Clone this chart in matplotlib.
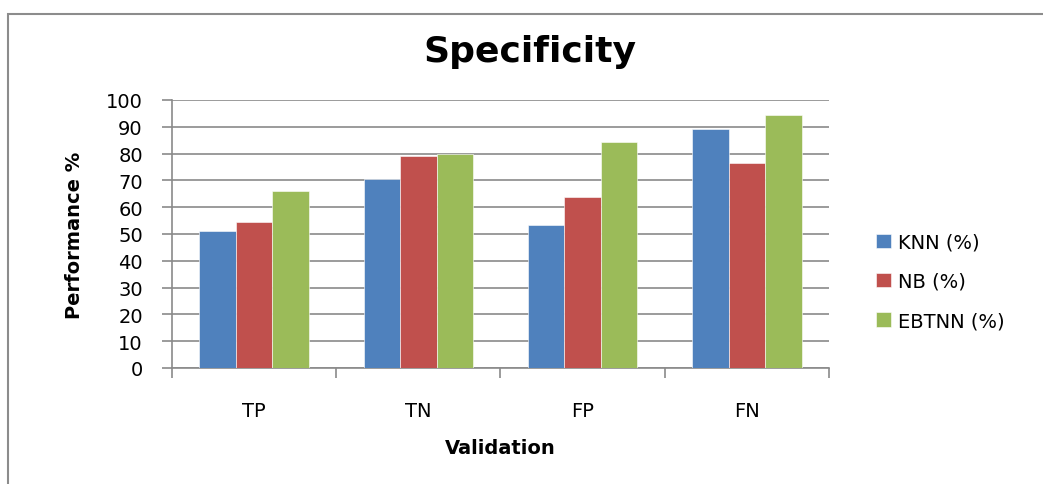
import numpy as np
import matplotlib
matplotlib.use("Agg")
import matplotlib.pyplot as plt
from matplotlib.patches import Rectangle

categories = ["TP", "TN", "FP", "FN"]
series_names = ["KNN (%)", "NB (%)", "EBTNN (%)"]
knn = [51.1, 70.7, 53.2, 89.3]
nb = [54.3, 79.0, 63.9, 76.3]
ebtnn = [65.9, 80.0, 84.2, 94.5]
colors = ["#4F81BD", "#C0504D", "#9BBB59"]

plt.rcParams["font.family"] = ["DejaVu Sans"]

fig = plt.figure(figsize=(10.43, 4.85), dpi=100)
ax = fig.add_axes([0.1649, 0.2392, 0.6299, 0.5526])

# outer chart frame
fig.patches.append(Rectangle((0.0077, -0.05), 1.1, 1.019, transform=fig.transFigure,
                             fill=False, edgecolor="#8c8c8c", linewidth=1.5))

x = np.arange(len(categories))
w = 1 / 4.5
for i, (vals, name) in enumerate(zip([knn, nb, ebtnn], series_names)):
    ax.bar(x + (i - 1) * w, vals, width=w, color=colors[i], label=name, zorder=3,
           edgecolor="white", linewidth=0.4)

ax.set_xlim(-0.5, 3.5)
ax.set_ylim(0, 100)
ax.set_yticks(range(0, 101, 10))
ax.yaxis.grid(True, color="#8a8a8a", linewidth=1.2, zorder=0)
ax.set_axisbelow(True)

ax.set_xticks(x)
ax.set_xticklabels(categories)
ax.set_xticks(np.arange(-0.5, 4, 1), minor=True)
ax.tick_params(axis="x", which="major", length=0, pad=24, labelsize=14)
ax.tick_params(axis="x", which="minor", length=7, width=1.2, color="#8a8a8a", direction="out")
ax.tick_params(axis="y", length=7, width=1.2, color="#8a8a8a", pad=14, labelsize=14)

for s in ["top", "right"]:
    ax.spines[s].set_visible(False)
for s in ["left", "bottom"]:
    ax.spines[s].set_color("#8a8a8a")
    ax.spines[s].set_linewidth(1.2)

ax.set_ylabel("Performance %", fontsize=14, fontweight="bold", labelpad=16)
ax.set_xlabel("Validation", fontsize=14, fontweight="bold", labelpad=13)
fig.text(0.508, 0.893, "Specificity", ha="center", va="center", fontsize=26, fontweight="bold")

ax.legend(loc="center left", bbox_to_anchor=(1.045, 0.323), frameon=False, fontsize=14,
          handlelength=0.75, handleheight=0.75, handletextpad=0.4, labelspacing=1.05)

fig.savefig("out.png", dpi=100)
